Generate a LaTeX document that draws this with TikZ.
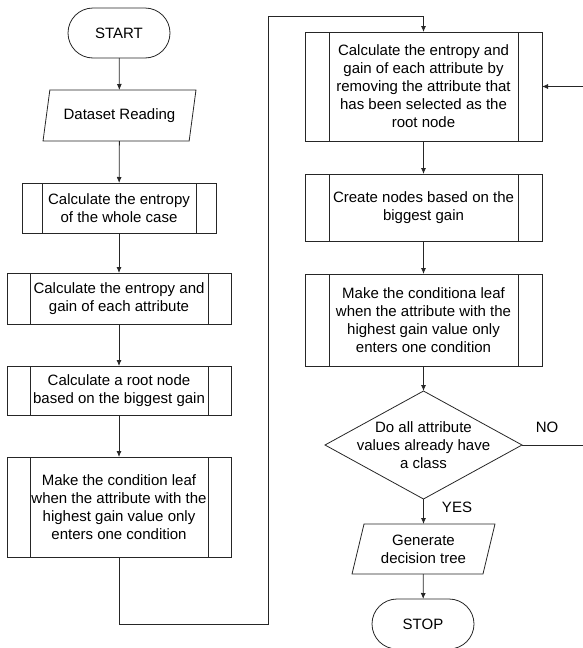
\documentclass[tikz,border=0pt]{standalone}
\usepackage{fontspec}
\setmainfont{Liberation Sans}
\usetikzlibrary{arrows.meta}
\usetikzlibrary{shapes.geometric}

\begin{document}
\begin{tikzpicture}[x=1pt,y=-1pt,>={Latex[length=6pt,width=5pt]},
  every node/.style={font=\fontsize{15}{18}\selectfont, align=center,
    inner sep=0pt, outer sep=0pt},
  line/.style={draw=black!85, line width=0.8pt},
  term/.style={line, rectangle, rounded corners=25pt,
    minimum width=102pt, minimum height=50pt},
  io/.style={line, trapezium, trapezium stretches=true},
  sub/.style={line, rectangle, minimum width=#1},
  cond/.style={line, diamond, shape aspect=1.8, inner sep=-8pt,
    minimum width=197pt, minimum height=108pt}]
\useasboundingbox (0,0) rectangle (582,648);
% left column
\node[term] (start) at (119,33) {START};
\node[io, trapezium left angle=68.6, trapezium right angle=111.4,
  minimum width=153pt, minimum height=51pt] (read) at (119.5,115.5) {Dataset Reading};
\node[sub=194pt, minimum height=50pt] (case) at (119,208)
  {Calculate the entropy\\of the whole case};
\node[sub=224pt, minimum height=51pt] (gain) at (119,298.5)
  {Calculate the entropy and\\gain of each attribute};
\node[sub=224pt, minimum height=49pt] (root) at (119,390.5)
  {Calculate a root node\\based on the biggest gain};
\node[sub=224pt, minimum height=100pt] (leaf) at (119,507)
  {Make the condition leaf\\when the attribute with the\\highest gain value only\\enters one condition};
% right column
\node[sub=237pt, minimum height=109pt] (regain) at (423.5,86.5)
  {Calculate the entropy and\\gain of each attribute by\\removing the attribute that\\has been selected as the\\root node};
\node[sub=237pt, minimum height=67pt] (create) at (423.5,207.5)
  {Create nodes based on the\\biggest gain};
\node[sub=237pt, minimum height=92pt] (cleaf) at (423.5,320)
  {Make the conditiona leaf\\when the attribute with the\\highest gain value only\\enters one condition};
\node[cond] (check) at (423.5,445)
  {Do all attribute\\values already have\\a class};
\node[io, trapezium left angle=73.3, trapezium right angle=106.7,
  minimum width=143pt, minimum height=50pt] (tree) at (423.5,549)
  {Generate\\decision tree};
\node[term] (stop) at (423,624) {STOP};
% side bars of the sub-process boxes
\foreach \n/\b in {case/20,gain/23,root/23,leaf/23,regain/24,create/24,cleaf/24}{
  \draw[line] ([xshift=\b]\n.north west) -- ([xshift=\b]\n.south west);
  \draw[line] ([xshift=-\b]\n.north east) -- ([xshift=-\b]\n.south east);
}
% arrows
\foreach \a/\b in {start/read,read/case,case/gain,gain/root,root/leaf,
  regain/create,create/cleaf,cleaf/check,check/tree,tree/stop}
  \draw[line,->] (\a) -- (\b);
\coordinate (c1) at (268,624);
\coordinate (c2) at (268,16);
\draw[line,->] (leaf.south) |- (c1) -- (c2) -| (regain.north);
\coordinate (n2) at (586,86.5);
\draw[line,->] (check.east) -| (n2) -- (regain.east);
\node (yes) at (457,507) {YES};
\node (no) at (547,427) {NO};
\end{tikzpicture}
\end{document}
